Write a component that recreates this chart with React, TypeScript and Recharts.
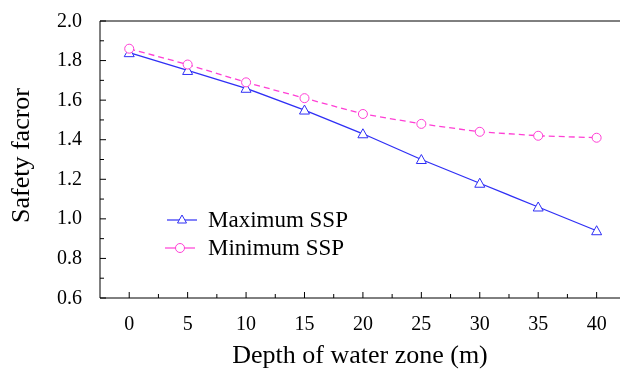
import React from 'react';
import { LineChart, Line, XAxis, YAxis, ReferenceLine, Legend } from 'recharts';

const depths = [0, 5, 10, 15, 20, 25, 30, 35, 40];
const maxSsp = [1.84, 1.75, 1.66, 1.55, 1.43, 1.3, 1.18, 1.06, 0.94];
const minSsp = [1.86, 1.78, 1.69, 1.61, 1.53, 1.48, 1.44, 1.42, 1.41];
const xTicks = [0, 2.5, 5, 7.5, 10, 12.5, 15, 17.5, 20, 22.5, 25, 27.5, 30, 32.5, 35, 37.5, 40];
const yTicks = [0.6, 0.7, 0.8, 0.9, 1.0, 1.1, 1.2, 1.3, 1.4, 1.5, 1.6, 1.7, 1.8, 1.9, 2.0];

const data = depths.map((d, i) => ({ depth: d, max: maxSsp[i], min: minSsp[i] }));

const FONT = "'Liberation Serif', 'DejaVu Serif', serif";
const BLUE = '#2f2ff5';
const PINK = '#ff3fd5';

const XTick = (props: any) => {
  const { x, y, payload } = props;
  const v = payload.value;
  const major = v % 5 === 0;
  return (
    <g>
      <line x1={x} x2={x} y1={y} y2={y - (major ? 6 : 4)} stroke="#000" />
      {major && (
        <text x={x} y={y + 32} textAnchor="middle" fontSize={20} style={{ fontFamily: FONT }} fill="#000">
          {v}
        </text>
      )}
    </g>
  );
};

const YTick = (props: any) => {
  const { x, y, payload } = props;
  const v = payload.value;
  const major = Math.round(v * 10) % 2 === 0;
  return (
    <g>
      <line x1={x} x2={x + (major ? 6 : 4)} y1={y} y2={y} stroke="#000" />
      {major && (
        <text x={x - 18} y={y + 5.5} textAnchor="end" fontSize={20} style={{ fontFamily: FONT }} fill="#000">
          {v.toFixed(1)}
        </text>
      )}
    </g>
  );
};

const Triangle = (props: any) => {
  const { cx, cy } = props;
  if (cx == null || cy == null) return null;
  return (
    <polygon
      points={`${cx},${cy - 5} ${cx - 5},${cy + 4} ${cx + 5},${cy + 4}`}
      fill="#fff"
      stroke={BLUE}
      strokeWidth={1}
    />
  );
};

const renderLegend = (props: any) => {
  const { payload } = props;
  return (
    <div style={{ fontFamily: FONT, fontSize: 23, color: '#000', lineHeight: '28px' }}>
      {(payload || []).map((p: any, i: number) => (
        <div key={p.value} style={{ display: 'flex', alignItems: 'center', height: 28, marginLeft: i === 0 ? 2 : 0 }}>
          <svg width={41} height={20}>
            <line x1={0} x2={30} y1={10} y2={10} stroke={p.color} strokeWidth={1.2} />
            {p.dataKey === 'max' ? (
              <polygon points="15,5 10.5,13 19.5,13" fill="#fff" stroke={p.color} />
            ) : (
              <circle cx={15} cy={10} r={4.5} fill="#fff" stroke={p.color} />
            )}
          </svg>
          <span style={{ marginLeft: i === 0 ? 0 : 2, whiteSpace: 'nowrap' }}>{p.value}</span>
        </div>
      ))}
    </div>
  );
};

export default function App() {
  return (
    <div style={{ position: 'fixed', left: 0, top: 0, fontFamily: FONT }}>
      <LineChart width={620} height={370} data={data} margin={{ top: 21, right: 0, left: 0, bottom: 0 }}>
        <XAxis
          dataKey="depth"
          type="number"
          domain={[-2.5, 42]}
          allowDataOverflow
          ticks={xTicks}
          interval={0}
          tick={<XTick />}
          tickLine={false}
          tickSize={0}
          tickMargin={0}
          height={72}
          axisLine={{ stroke: '#000' }}
          label={{ value: 'Depth of water zone (m)', position: 'center', dy: 20, style: { fontFamily: FONT, fontSize: 26, fill: '#000' } }}
        />
        <YAxis
          type="number"
          domain={[0.6, 2.0]}
          allowDataOverflow
          ticks={yTicks}
          interval={0}
          tick={<YTick />}
          tickLine={false}
          tickSize={0}
          tickMargin={0}
          width={100}
          axisLine={{ stroke: '#000' }}
          label={{ value: 'Safety facror', angle: -90, position: 'center', dx: -30, dy: -4, style: { fontFamily: FONT, fontSize: 26, fill: '#000' } }}
        />
        <ReferenceLine y={2.0} stroke="#000" />
        <Legend
          content={renderLegend}
          layout="vertical"
          align="center"
          verticalAlign="middle"
          wrapperStyle={{ left: 165, top: 206, width: 'auto', height: 'auto' }}
        />
        <Line
          type="linear"
          dataKey="max"
          name="Maximum SSP"
          stroke={BLUE}
          strokeWidth={1.3}
          dot={<Triangle />}
          isAnimationActive={false}
        />
        <Line
          type="linear"
          dataKey="min"
          name="Minimum SSP"
          stroke={PINK}
          strokeWidth={1.3}
          strokeDasharray="6 4"
          dot={{ r: 4.5, fill: '#fff', stroke: PINK, strokeWidth: 1, strokeDasharray: '' }}
          isAnimationActive={false}
        />
      </LineChart>
    </div>
  );
}
